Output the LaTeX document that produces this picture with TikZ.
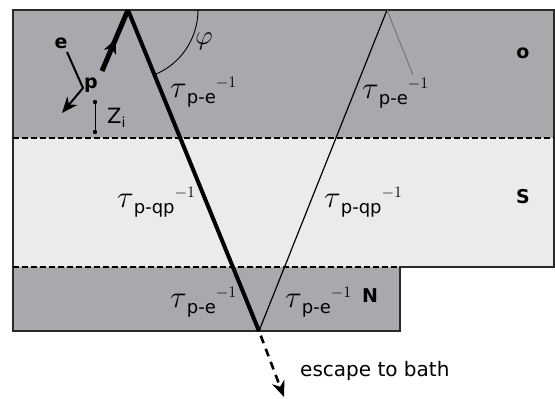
\RequirePackage{fix-cm}
\documentclass[tikz,border=0pt]{standalone}
\usepackage[no-math]{fontspec}
\setmainfont{DejaVu Sans}
\usetikzlibrary{arrows.meta,decorations.markings}
\definecolor{darkreg}{HTML}{A7A9AC}
\definecolor{lightreg}{HTML}{EBEBEB}
\definecolor{edgecol}{HTML}{2A2A2A}
\newcommand{\tauinv}[1]{{\fontsize{31}{31}\selectfont$\tau$}\raisebox{-6pt}{\fontsize{18}{18}\selectfont #1}\raisebox{10pt}{\fontsize{16}{16}\selectfont$-1$}}
\begin{document}
\begin{tikzpicture}[x=1pt,y=-1pt,
  lbl/.style={inner sep=0pt,anchor=base west},
  boldlbl/.style={inner sep=0pt,anchor=base,font=\fontsize{19}{19}\selectfont\bfseries},
  sep/.style={line width=1.6pt,dash pattern=on 6pt off 3pt},
  thickray/.style={line width=4pt},
  thinray/.style={line width=1.2pt},
  tip/.style={-{Stealth[length=16pt,width=13pt,inset=5pt]}}]
\useasboundingbox (0,0) rectangle (555,399);
% regions
\fill[darkreg] (13,10) rectangle (554,138);
\fill[lightreg] (13,138) rectangle (554,267);
\fill[darkreg] (13,267) rectangle (400,331);
\draw[edgecol,line width=1.5pt] (13,10) -- (554,10) -- (554,267) -- (400,267) -- (400,331) -- (13,331) -- cycle;
\draw[sep] (13,138) -- (554,138);
\draw[sep] (13,267) -- (400,267);
% key points
\coordinate (A) at (128,10);
\coordinate (B) at (387,10);
\coordinate (C) at (259,331);
\coordinate (G) at (413,75);
\coordinate (D) at (284,397);
\coordinate (P) at (102,71);
\coordinate (E1) at (67,52);
\coordinate (E2) at (83,88);
\coordinate (E3) at (62,113);
\coordinate (Z1) at (95,102);
\coordinate (Z2) at (95,132);
\coordinate (R) at (198,10);
% angle arc
\draw[line width=0.9pt] (R) arc[start angle=0,end angle=67.9,radius=70];
% rays
\draw[thickray] (A) -- (C);
\draw[thinray] (B) -- (C);
\draw[line width=1pt,gray!90!black] (B) -- (G);
\draw[line width=2.6pt,dash pattern=on 8pt off 6pt,shorten <=5pt,tip] (C) -- (D);
% p arrow
\draw[line width=5pt,postaction={decorate},decoration={markings,mark=at position 0.52 with {\arrow{Stealth[length=14pt,width=13pt,inset=4pt]}}}] (P) -- (A);
% e arrow
\draw[line width=2pt,tip] (E1) -- (E2) -- (E3);
% z_i bar
\draw[line width=1pt] (Z1) -- (Z2);
\fill (Z1) circle (2.2);
\fill (Z2) circle (2.2);
% labels
\node[boldlbl] (le) at (61,48) {e};
\node[boldlbl] (lp) at (91,88) {p};
\node[lbl] (lz) at (107,123) {\fontsize{21}{21}\selectfont Z\raisebox{-4pt}{\fontsize{14}{14}\selectfont i}};
\node[inner sep=0pt] (phi) at (204,41) {\fontsize{27}{27}\selectfont$\varphi$};
\node[lbl] (t1) at (170,97) {\tauinv{p-e}};
\node[lbl] (t2) at (362,98) {\tauinv{p-e}};
\node[lbl] (t3) at (117,207) {\tauinv{p-qp}};
\node[lbl] (t4) at (324,207) {\tauinv{p-qp}};
\node[lbl] (t5) at (170,307) {\tauinv{p-e}};
\node[lbl] (t6) at (285,307) {\tauinv{p-e}};
\node[boldlbl] (lo) at (523,58) {o};
\node[boldlbl] (lS) at (523,203) {S};
\node[boldlbl] (lN) at (370,302) {N};
\node[lbl] (esc) at (300,376) {\fontsize{20}{20}\selectfont escape to bath};
\end{tikzpicture}
\end{document}
